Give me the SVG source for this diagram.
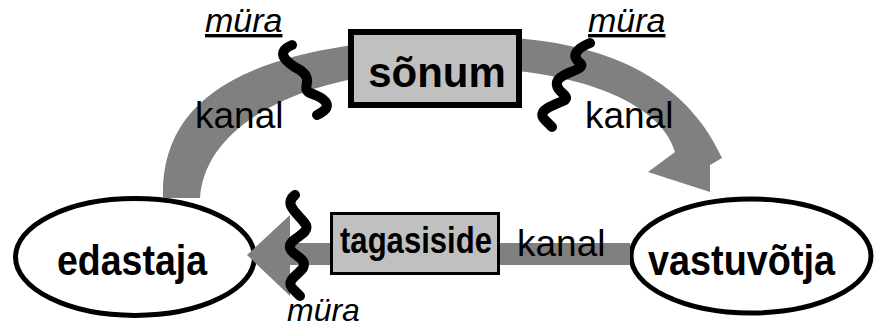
<svg xmlns="http://www.w3.org/2000/svg" width="874" height="329" viewBox="0 0 874 329">
<style>
.node{fill:#fff;stroke:#000;stroke-width:5}
.box{fill:#c0c0c0;stroke:#000}
.band{fill:#808080;stroke:none}
.noise{fill:none;stroke:#000;stroke-width:10;stroke-linecap:round;stroke-linejoin:round}
.bold{font-family:"Liberation Sans",Arial,sans-serif;font-weight:bold;fill:#000}
.lbl{font-family:"Liberation Sans",Arial,sans-serif;font-size:37px;fill:#000}
.noiselbl{font-family:"Liberation Sans",Arial,sans-serif;font-style:italic;fill:#000}
</style>
<rect width="874" height="329" fill="#fff"/>
<g id="edastaja">
<ellipse class="node" cx="135" cy="257" rx="119.5" ry="58.5"/>
<text class="bold" x="132" y="275" font-size="42" text-anchor="middle" textLength="150" lengthAdjust="spacingAndGlyphs">edastaja</text>
</g>
<g id="vastuvotja">
<ellipse class="node" cx="751" cy="256" rx="120" ry="57"/>
<text class="bold" x="741.5" y="275" font-size="42" text-anchor="middle" textLength="187" lengthAdjust="spacingAndGlyphs">vastuvõtja</text>
</g>
<g id="connectors">
<path class="band" d="M163,198 C160,95 250,40 470,37 C580,35 680,65 722,158 L710,165 L710,192 L648,172 L675,152 C660,100 570,68 460,68 C300,70 205,125 200,198 Z"/>
<path class="band" d="M630,243 L290,243 L290,215 L247,255 L290,296 L290,265 L630,265 Z"/>
<path class="noise" d="M292,45 C275,52 285,62 300,70 C315,80 300,88 310,93 C330,100 332,108 317,115"/>
<path class="noise" d="M590,43 C578,48 570,55 580,63 C588,70 560,72 557,82 C555,92 570,95 565,100 C555,105 535,110 545,120 L552,127"/>
<path class="noise" d="M295,195 C282,205 300,215 306,225 C310,235 288,238 290,248 C292,256 308,258 303,268 C298,275 286,280 292,288 L300,296"/>
<text class="lbl" x="195" y="128">kanal</text>
<text class="lbl" x="585" y="128">kanal</text>
<text class="lbl" x="517" y="256">kanal</text>
<text class="noiselbl" x="205" y="32" font-size="34" text-decoration="underline">müra</text>
<text class="noiselbl" x="588" y="32" font-size="34" text-decoration="underline">müra</text>
<text class="noiselbl" x="287" y="321" font-size="32">müra</text>
</g>
<g id="sonum">
<rect class="box" x="351" y="32" width="168" height="73" stroke-width="6"/>
<text class="bold" x="437" y="87" font-size="42" text-anchor="middle">sõnum</text>
</g>
<g id="tagasiside">
<rect class="box" x="331.5" y="213.5" width="167" height="60" stroke-width="3"/>
<text class="bold" x="416" y="253" font-size="37" text-anchor="middle" textLength="152" lengthAdjust="spacingAndGlyphs">tagasiside</text>
</g>
</svg>
